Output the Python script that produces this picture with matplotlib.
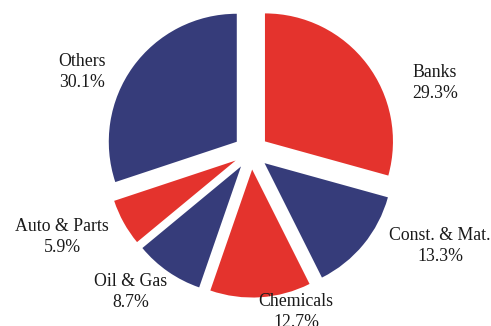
import matplotlib
matplotlib.use("Agg")
import matplotlib.pyplot as plt

categories = ["Banks", "Const. & Mat.", "Chemicals", "Oil & Gas", "Auto & Parts", "Others"]
shares = [29.3, 13.3, 12.7, 8.7, 5.9, 30.1]

RED = "#E4332D"
BLUE = "#363C7A"
colors = [RED, BLUE, RED, BLUE, RED, BLUE]

# label centres (data units, radius = 1)
label_pos = [(1.4375, 0.539), (1.477, -0.734), (0.352, -1.25),
             (-0.9375, -1.094), (-1.477, -0.664), (-1.320, 0.625)]

fig = plt.figure(figsize=(4.91, 3.26), dpi=100)
ax = fig.add_axes([0, 0, 1, 1])
ax.pie(shares, colors=colors, startangle=90, counterclock=False,
       radius=1, explode=[0.137] * len(shares),
       wedgeprops=dict(linewidth=0))
for cat, val, (x, y) in zip(categories, shares, label_pos):
    ax.text(x, y, f"{cat}\n{val:.1f}%", ha="center", va="center",
            fontsize=12.8, family="Liberation Serif", color="#1a1a1a",
            linespacing=1.25)
ax.set_xlim(-1.961, 1.875)
ax.set_ylim(-1.359, 1.1875)
ax.set_aspect("equal")
ax.axis("off")
fig.savefig("out.png", dpi=100)
